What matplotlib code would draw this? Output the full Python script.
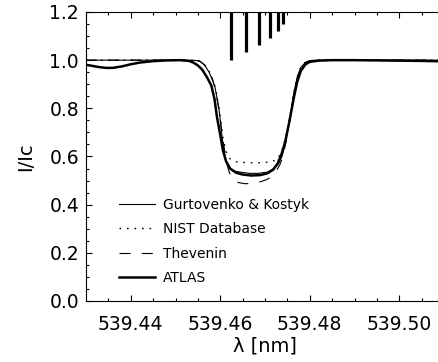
import matplotlib
matplotlib.use("Agg")
import matplotlib.pyplot as plt
from matplotlib.ticker import MultipleLocator, FormatStrFormatter

plt.rcParams['font.family'] = ['DejaVu Sans']
plt.rcParams['lines.scale_dashes'] = False

# Gurtovenko & Kostyk (thin solid)
gk_wl = [539.430, 539.450, 539.4545, 539.4555, 539.4565, 539.4575, 539.4582, 539.4588,
         539.4597, 539.4606, 539.4613, 539.4620, 539.4630, 539.4645, 539.4665, 539.4685,
         539.4705, 539.4720, 539.4730, 539.4738, 539.4745, 539.4755, 539.4764, 539.4772,
         539.4780, 539.4790, 539.4800, 539.4820, 539.510]
gk_i = [1.000, 1.000, 0.999, 0.995, 0.980, 0.950, 0.920, 0.890,
        0.800, 0.650, 0.580, 0.555, 0.540, 0.535, 0.530, 0.530,
        0.535, 0.550, 0.570, 0.600, 0.650, 0.750, 0.860, 0.930,
        0.970, 0.990, 0.998, 1.000, 1.000]

# NIST Database (dotted)
nist_wl = [539.430, 539.4545, 539.4555, 539.4565, 539.4575, 539.4583, 539.4590, 539.4598,
           539.4606, 539.4613, 539.4622, 539.4635, 539.4660, 539.4690, 539.4715, 539.4728,
           539.4737, 539.4745, 539.4755, 539.4764, 539.4772, 539.4780, 539.4790, 539.4800,
           539.4820, 539.510]
nist_i = [1.000, 1.000, 0.995, 0.980, 0.955, 0.920, 0.880, 0.790,
          0.680, 0.620, 0.590, 0.578, 0.574, 0.574, 0.578, 0.590,
          0.620, 0.670, 0.760, 0.860, 0.930, 0.970, 0.990, 0.998,
          1.000, 1.000]

# Thevenin (dashed)
thev_wl = [539.430, 539.4545, 539.4555, 539.4565, 539.4575, 539.4583, 539.4590, 539.4598,
           539.4606, 539.4614, 539.4620, 539.4628, 539.4640, 539.4655, 539.4670, 539.4690,
           539.4705, 539.4715, 539.4725, 539.4733, 539.4740, 539.4748, 539.4757, 539.4765,
           539.4773, 539.4781, 539.4790, 539.4800, 539.4820, 539.510]
thev_i = [1.000, 1.000, 0.995, 0.980, 0.955, 0.920, 0.870, 0.780,
          0.670, 0.575, 0.535, 0.505, 0.492, 0.487, 0.488, 0.495,
          0.505, 0.517, 0.540, 0.565, 0.600, 0.670, 0.770, 0.860,
          0.930, 0.970, 0.990, 0.998, 1.000, 1.000]

# ATLAS (thick solid)
atlas_wl = [539.430, 539.4315, 539.433, 539.4345, 539.436, 539.438, 539.440, 539.442,
            539.445, 539.448, 539.451, 539.453, 539.454, 539.455, 539.456, 539.457,
            539.458, 539.4587, 539.4593, 539.4600, 539.4606, 539.4613, 539.4622, 539.4635,
            539.4650, 539.4670, 539.4690, 539.4705, 539.4718, 539.4728, 539.4737, 539.4745,
            539.4755, 539.4764, 539.4772, 539.4780, 539.4790, 539.4800, 539.4820, 539.4850,
            539.4900, 539.5000, 539.5050, 539.510]
atlas_i = [0.981, 0.976, 0.971, 0.968, 0.968, 0.974, 0.983, 0.990,
           0.996, 0.999, 1.000, 0.997, 0.990, 0.978, 0.960, 0.930,
           0.895, 0.840, 0.760, 0.690, 0.625, 0.580, 0.550, 0.533,
           0.525, 0.521, 0.523, 0.530, 0.545, 0.570, 0.610, 0.660,
           0.750, 0.840, 0.910, 0.955, 0.982, 0.993, 0.998, 1.000,
           1.000, 0.998, 0.997, 0.995]

# hyperfine component bars hanging from the top
hfs_wl = [539.4624, 539.4658, 539.4687, 539.4711, 539.4728, 539.4741]
hfs_bottom = [1.001, 1.032, 1.063, 1.093, 1.122, 1.152]

labels = ["Gurtovenko & Kostyk", "NIST Database", "Thevenin", "ATLAS"]

W, H = 439, 362
fig = plt.figure(figsize=(W / 100, H / 100), dpi=100)
ax = fig.add_axes([86 / W, 1 - 301 / H, (444 - 86) / W, (301 - 12) / H])

ax.plot(gk_wl, gk_i, color='black', lw=0.8, label=labels[0])
ax.plot(nist_wl, nist_i, color='black', lw=1.0, linestyle=(0, (1.2, 4.2)), label=labels[1])
ax.plot(thev_wl, thev_i, color='black', lw=0.8, linestyle=(0, (8, 8)), label=labels[2])
ax.plot(atlas_wl, atlas_i, color='black', lw=1.8, label=labels[3])
ax.vlines(hfs_wl, hfs_bottom, 1.2, color='black', lw=2.3)

ax.set_xlim(539.43, 539.51)
ax.set_ylim(0.0, 1.2)
ax.xaxis.set_major_locator(MultipleLocator(0.02))
ax.xaxis.set_minor_locator(MultipleLocator(0.005))
ax.yaxis.set_major_locator(MultipleLocator(0.2))
ax.yaxis.set_minor_locator(MultipleLocator(0.05))
ax.xaxis.set_major_formatter(FormatStrFormatter('%.2f'))
ax.yaxis.set_major_formatter(FormatStrFormatter('%.1f'))

ax.tick_params(which='both', direction='in', top=True, right=True, width=0.8)
ax.tick_params(which='major', length=4.5, labelsize=13.5)
ax.tick_params(axis='x', which='major', pad=10)
ax.tick_params(axis='y', which='major', pad=5)
ax.tick_params(which='minor', length=2.5)
for s in ax.spines.values():
    s.set_linewidth(0.8)

ax.set_xlabel("λ [nm]", fontsize=14, labelpad=2)
ax.set_ylabel("I/Ic", fontsize=14, labelpad=10)

leg = ax.legend(loc='upper left', bbox_to_anchor=(0.092, 0.357), frameon=False,
                fontsize=10, handlelength=2.6, handletextpad=0.55, labelspacing=0.75,
                borderpad=0, borderaxespad=0)

fig.savefig("out.png", dpi=100)
